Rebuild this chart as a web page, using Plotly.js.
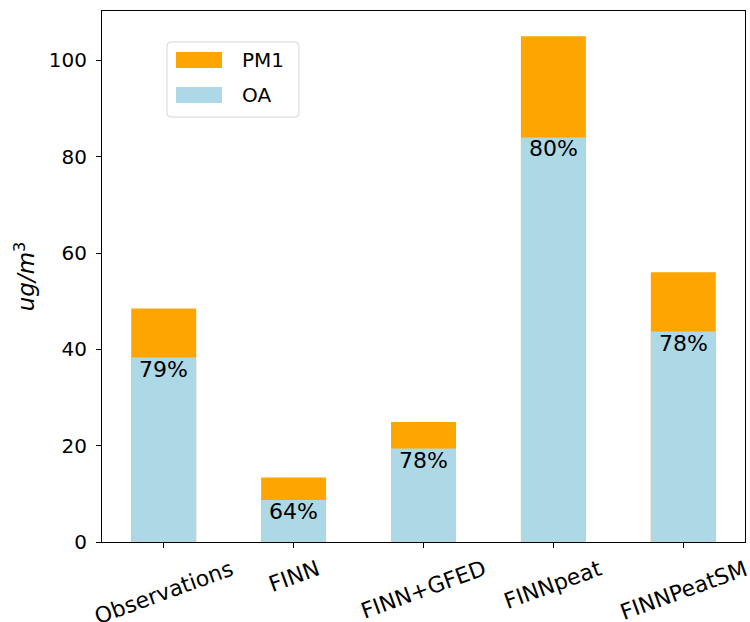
<!DOCTYPE html>
<html>
<head>
<meta charset="utf-8">
<script src="https://cdn.plot.ly/plotly-3.0.1.min.js"></script>
<style>html,body{margin:0;padding:0;background:#fff;}#chart{width:750px;height:622px;}</style>
</head>
<body>
<div id="chart"></div>
<script>
const categories = ['Observations', 'FINN', 'FINN+GFED', 'FINNpeat', 'FINNPeatSM'];
const pm1Values = [48.5, 13.4, 24.9, 105.0, 56.0];
const oaValues = [38.3, 8.7, 19.4, 84.0, 43.7];
const pctLabels = ['79%', '64%', '78%', '80%', '78%'];
const yTicks = [0, 20, 40, 60, 80, 100];
const seriesNames = ['PM1', 'OA'];
const seriesColors = ['#FFA500', '#ADD8E6'];

const font = 'DejaVu Sans, sans-serif';
const FS = 20;

// plot area in pixels (for legend placement in paper coords)
const L = 102, T = 11, W = 643, H = 531;
const px = v => (v - L) / W;
const py = v => (T + H - v) / H;

const traces = [
  {type: 'bar', name: seriesNames[0], x: categories, y: pm1Values, width: 0.5,
   marker: {color: seriesColors[0], line: {width: 0}}, hoverinfo: 'skip'},
  {type: 'bar', name: seriesNames[1], x: categories, y: oaValues, width: 0.5,
   marker: {color: seriesColors[1], line: {width: 0}}, hoverinfo: 'skip'}
];

const annotations = categories.map((c, i) => ({
  x: c, y: oaValues[i], xref: 'x', yref: 'y', text: pctLabels[i],
  showarrow: false, yanchor: 'top', xanchor: 'center', yshift: 3,
  font: {family: font, size: 22, color: '#000'}
}));

// rotated, centred category labels (matplotlib style)
categories.forEach(c => {
  annotations.push({x: c, y: 0, xref: 'x', yref: 'y', text: c, showarrow: false,
    textangle: -20, xanchor: 'center', yanchor: 'top', yshift: -11,
    font: {family: font, size: 22, color: '#000'}});
});

// custom legend (matplotlib style)
const shapes = [];
const r = 4;
const bx0 = 167, bx1 = 299, by0 = 42, by1 = 117;
const path = `M ${px(bx0 + r)},${py(by0)} L ${px(bx1 - r)},${py(by0)} Q ${px(bx1)},${py(by0)} ${px(bx1)},${py(by0 + r)} ` +
  `L ${px(bx1)},${py(by1 - r)} Q ${px(bx1)},${py(by1)} ${px(bx1 - r)},${py(by1)} ` +
  `L ${px(bx0 + r)},${py(by1)} Q ${px(bx0)},${py(by1)} ${px(bx0)},${py(by1 - r)} ` +
  `L ${px(bx0)},${py(by0 + r)} Q ${px(bx0)},${py(by0)} ${px(bx0 + r)},${py(by0)} Z`;
shapes.push({type: 'path', xref: 'paper', yref: 'paper', path: path,
  line: {color: '#d6d6d6', width: 1}, fillcolor: 'rgba(255,255,255,0.8)', layer: 'above'});
const rowY = [52, 87];
seriesNames.forEach((n, i) => {
  shapes.push({type: 'rect', xref: 'paper', yref: 'paper',
    x0: px(176), x1: px(222), y0: py(rowY[i]), y1: py(rowY[i] + 16),
    fillcolor: seriesColors[i], line: {width: 0}, layer: 'above'});
  annotations.push({xref: 'paper', yref: 'paper', x: px(240), y: py(rowY[i] + 8),
    xanchor: 'left', yanchor: 'middle', text: n, showarrow: false,
    font: {family: font, size: FS, color: '#000'}});
});

const layout = {
  width: 750, height: 622,
  margin: {l: L, r: 750 - L - W, t: T, b: 622 - T - H, pad: 0},
  paper_bgcolor: '#fff', plot_bgcolor: '#fff',
  barmode: 'overlay',
  showlegend: false,
  xaxis: {range: [-0.475, 4.475], showline: true, mirror: true, linecolor: '#000', linewidth: 1,
    ticks: 'outside', ticklen: 5, tickcolor: '#000', showticklabels: false,
    showgrid: false, zeroline: false, fixedrange: true},
  yaxis: {range: [0, 110.25], showline: true, mirror: true, linecolor: '#000', linewidth: 1,
    ticks: 'outside', ticklen: 5, tickcolor: '#000', tickvals: yTicks, ticklabelstandoff: 5,
    tickfont: {family: font, size: FS, color: '#000'}, showgrid: false, zeroline: false,
    title: {text: '<i>ug/m</i><sup>3</sup>', font: {family: font, size: 23, color: '#000'}, standoff: 7},
    fixedrange: true},
  shapes: shapes,
  annotations: annotations
};

Plotly.newPlot('chart', traces, layout, {staticPlot: true, displayModeBar: false});
</script>
</body>
</html>
